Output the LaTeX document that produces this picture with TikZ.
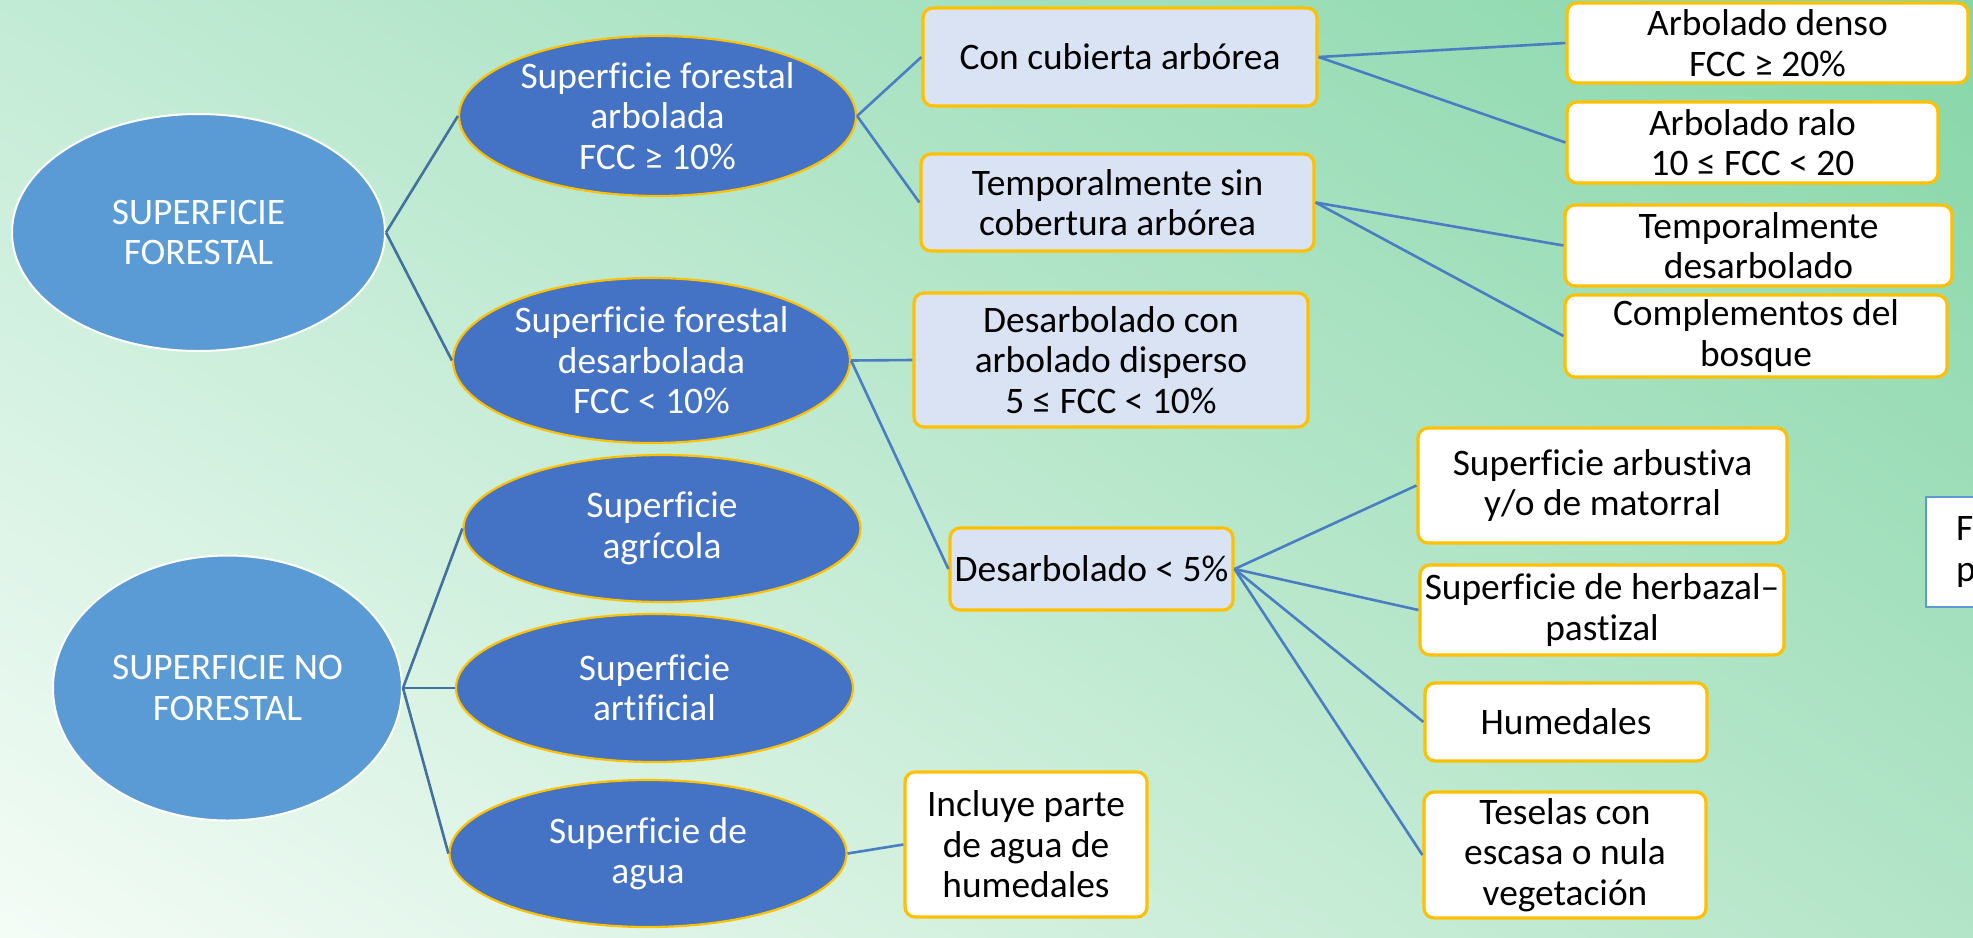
\documentclass[tikz,border=0pt]{standalone}
\usepackage{fontspec}
\setmainfont{Carlito}[Ligatures=CommonOff]
\usetikzlibrary{shapes.geometric,shadings}

\definecolor{bigblue}{HTML}{5B9BD5}
\definecolor{midblue}{HTML}{4472C4}
\definecolor{gold}{HTML}{FFC000}
\definecolor{paleblue}{HTML}{DAE3F3}
\definecolor{wireblue}{HTML}{4A7EC2}
\definecolor{darkwireblue}{HTML}{41719C}
\definecolor{bgul}{HTML}{C2EBD5}
\definecolor{bgur}{HTML}{86D6A8}
\definecolor{bgll}{HTML}{F4FCF6}
\definecolor{bglr}{HTML}{B3E5C8}

\begin{document}
\begin{tikzpicture}[x=0.5pt,y=-0.5pt,
  every node/.style={font=\fontsize{18.7}{20.2}\selectfont,align=center},
  mainell/.style={ellipse,fill=bigblue,draw=white,line width=1pt,text=white,inner sep=-12pt},
  subell/.style={ellipse,fill=midblue,draw=gold,line width=1.1pt,text=white,inner sep=-12pt,minimum width=198.5pt},
  leafbox/.style={rectangle,rounded corners=5pt,draw=gold,line width=1.6pt,fill=white,inner sep=0pt},
  catbox/.style={leafbox,fill=paleblue},
  notebox/.style={rectangle,draw=bigblue,line width=1pt,fill=white},
  wire/.style={draw=wireblue,line width=1.3pt},
  darkwire/.style={draw=darkwireblue,line width=1.3pt}]

  % fondo
  \useasboundingbox (0,0) rectangle (1973,937);
  \shade[upper left=bgul,upper right=bgur,lower left=bgll,lower right=bglr] (0,0) rectangle (1973,937);

  % primer nivel
  \node[mainell,minimum width=186.5pt,minimum height=118.5pt] (sf)  at (198.5,232.5) {SUPERFICIE\\FORESTAL};
  \node[mainell,minimum width=174.5pt,minimum height=132.5pt] (snf) at (227.5,688)   {SUPERFICIE NO\\FORESTAL};

  % segundo nivel
  \node[subell,minimum height=80pt]   (arb)    at (657.5,116)   {Superficie forestal\\arbolada\\FCC ≥ 10\%};
  \node[subell,minimum height=82.5pt] (desarb) at (651.5,360.5) {Superficie forestal\\desarbolada\\FCC < 10\%};
  \node[subell,minimum height=73.5pt] (agri)   at (662,528.5)   {Superficie\\agrícola};
  \node[subell,minimum height=74pt]   (artif)  at (654.5,688)   {Superficie\\artificial};
  \node[subell,minimum height=73.5pt] (agua)   at (648,853.5)   {Superficie de\\agua};

  % tercer nivel
  \node[catbox,minimum width=197pt,minimum height=49pt]     (cub)   at (1120,57)    {Con cubierta arbórea};
  \node[catbox,minimum width=196.5pt,minimum height=48.5pt] (temp)  at (1117.5,202.5) {Temporalmente sin\\cobertura arbórea};
  \node[catbox,minimum width=197pt,minimum height=67pt]     (disp)  at (1111,360)   {Desarbolado con\\arbolado disperso\\5 ≤ FCC < 10\%};
  \node[catbox,minimum width=141.5pt,minimum height=41pt]   (cinco) at (1091.5,569) {Desarbolado < 5\%};
  \node[leafbox,minimum width=121pt,minimum height=72.5pt]  (incl)  at (1026,844.5) {Incluye parte\\de agua de\\humedales};

  % cuarto nivel
  \node[leafbox,minimum width=200.5pt,minimum height=40pt]   (denso) at (1767.5,43)   {Arbolado denso\\FCC ≥ 20\%};
  \node[leafbox,minimum width=185.5pt,minimum height=40.5pt] (ralo)  at (1752.5,142.5) {Arbolado ralo\\10 ≤ FCC < 20};
  \node[leafbox,minimum width=193.5pt,minimum height=40.5pt] (tdes)  at (1758.5,245.5) {Temporalmente\\desarbolado};
  \node[leafbox,minimum width=191pt,minimum height=41pt]     (compl) at (1756,336)    {Complementos del\\bosque};
  \node[leafbox,minimum width=184.5pt,minimum height=57.5pt] (arbus) at (1602.5,485.5) {Superficie arbustiva\\y/o de matorral};
  \node[leafbox,minimum width=182pt,minimum height=45pt]     (herb)  at (1602,610)    {Superficie de herbazal–\\pastizal};
  \node[leafbox,minimum width=141pt,minimum height=39pt]     (hum)   at (1566,722)    {Humedales};
  \node[leafbox,minimum width=141pt,minimum height=63pt]     (tes)   at (1565,855)    {Teselas con\\escasa o nula\\vegetación};

  % nota cortada en el borde
  \node[notebox,anchor=north west,minimum width=120pt,minimum height=55pt,text width=90pt,align=left,inner xsep=11pt] (fuente) at (1925,496) {Fu\\pr};

  % conexiones
  \path[darkwire] (sf.east) edge (arb.west) edge (desarb.west);
  \path[darkwire] (snf.east) edge (agri.west) edge (artif.west) edge (agua.west);
  \path[wire] (arb.east) edge (cub.west) edge (temp.west)
              (desarb.east) edge (disp.west) edge (cinco.west)
              (agua.east) edge (incl.west)
              (cub.east) edge (denso.west) edge (ralo.west)
              (temp.east) edge (tdes.west) edge (compl.west)
              (cinco.east) edge (arbus.west) edge (herb.west) edge (hum.west) edge (tes.west);
\end{tikzpicture}
\end{document}
